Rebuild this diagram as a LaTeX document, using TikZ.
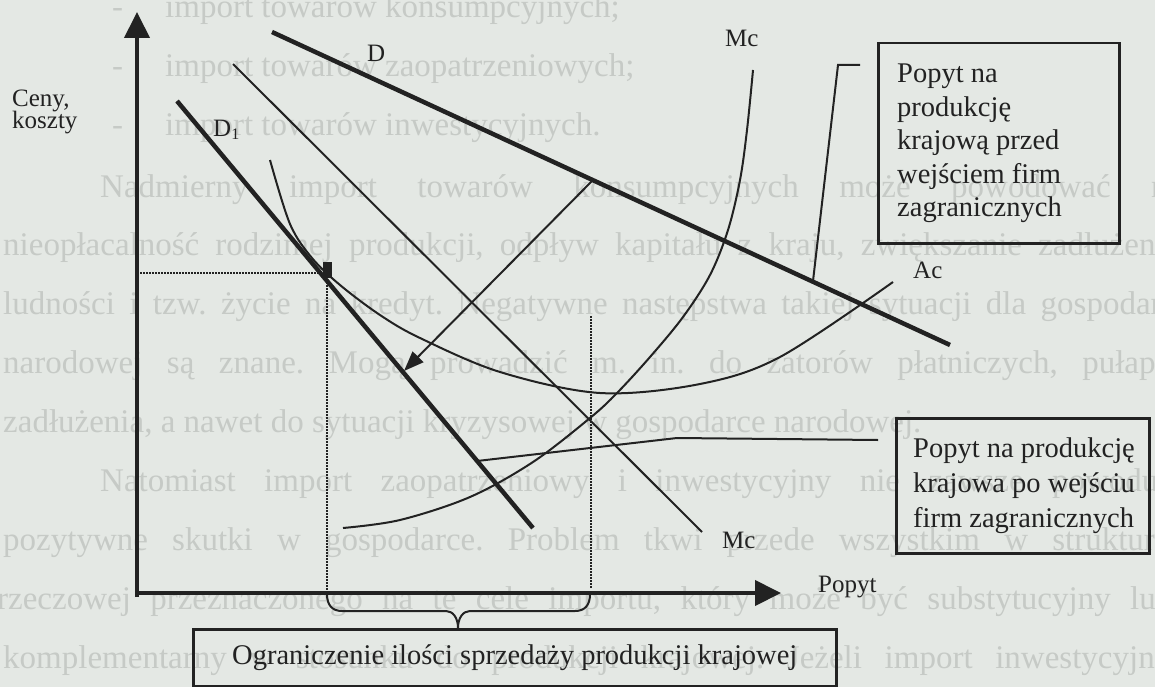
\documentclass[tikz,border=0pt]{standalone}
\usepackage{fontspec}
\setmainfont{Liberation Serif}
\usetikzlibrary{arrows.meta}
\definecolor{paper}{HTML}{E4E8E4}
\definecolor{ghost}{HTML}{C6CAC6}
\definecolor{ink}{HTML}{222222}
\tikzset{
  ghosttext/.style={text=ghost, font=\fontsize{33}{33}\selectfont, inner sep=0pt, anchor=base west},
  thickcurve/.style={draw=ink, line width=4.5pt},
  thincurve/.style={draw=ink, line width=2pt},
  axisline/.style={draw=ink, line width=4pt, -{Triangle[length=26pt,width=25pt]}},
  guide/.style={draw=ink, line width=1.6pt, dash pattern=on 1.5pt off 1.5pt},
  framebox/.style={draw=ink, line width=2.5pt, inner sep=0pt},
  lbl/.style={text=ink, font=\fontsize{25}{25}\selectfont, inner sep=0pt, anchor=base west},
  boxtext/.style={text=ink, font=\fontsize{28.5}{33.5}\selectfont, inner sep=0pt, align=left},
  connector/.style={draw=ink, line width=2pt},
}
\newcommand{\gline}[5]{\node[ghosttext] (#1) at (#2,#3) {\makebox[#4pt][s]{#5}};}
\begin{document}
\frenchspacing
\begin{tikzpicture}[x=1pt,y=-1pt]
\useasboundingbox (0,0) rectangle (1155,687);
\fill[paper] (0,0) rectangle (1155,687);
% faint text of the scanned page
\begin{scope}
\clip (0,0) rectangle (1155,687);
\node[ghosttext] (g1a) at (112,18) {-};
\node[ghosttext] (g1) at (165,18) {import towarów konsumpcyjnych;};
\node[ghosttext] (g2a) at (112,77) {-};
\node[ghosttext] (g2) at (165,77) {import towarów zaopatrzeniowych;};
\node[ghosttext] (g3a) at (112,136) {-};
\node[ghosttext] (g3) at (165,136) {import towarów inwestycyjnych.};
\gline{g4}{100}{197}{1082}{Nadmierny import towarów konsumpcyjnych może powodować na}
\gline{g5}{3}{255}{1176}{nieopłacalność rodzimej produkcji, odpływ kapitału z kraju, zwiększanie zadłużenia}
\gline{g6}{3}{314}{1184}{ludności i tzw. życie na kredyt. Negatywne następstwa takiej sytuacji dla gospodarki}
\gline{g7}{3}{373}{1178}{narodowej są znane. Mogą prowadzić m. in. do zatorów płatniczych, pułapki}
\node[ghosttext] (g8) at (3,432) {zadłużenia, a nawet do sytuacji kryzysowej w gospodarce narodowej.};
\gline{g9}{100}{491}{1082}{Natomiast import zaopatrzeniowy i inwestycyjny nie zawsze powoduje}
\gline{g10}{3}{550}{1181}{pozytywne skutki w gospodarce. Problem tkwi przede wszystkim w strukturze}
\gline{g11}{-3}{609}{1175}{rzeczowej przeznaczonego na te cele importu, który może być substytucyjny lub}
\gline{g12}{3}{668}{1168}{komplementarny w stosunku do produkcji krajowej. Jeżeli import inwestycyjny}
\end{scope}

% axes
\coordinate (ybot) at (137,597);
\coordinate (ytop) at (137,12);
\coordinate (xstart) at (135,593);
\coordinate (xtip) at (781,593);
\draw[axisline] (ybot) -- (ytop);
\draw[axisline] (xstart) -- (xtip);

% guides
\coordinate (gh0) at (140,273);
\coordinate (gh1) at (323,273);
\coordinate (gv0) at (327,279);
\coordinate (gv1) at (327,591);
\coordinate (gw0) at (591,316);
\coordinate (gw1) at (591,588);
\draw[guide] (gh0) -- (gh1);
\draw[guide] (gv0) -- (gv1);
\draw[guide] (gw0) -- (gw1);

% demand lines
\coordinate (D0) at (272,32);
\coordinate (D9) at (950,345);
\draw[thickcurve] (D0) -- (D9);
\coordinate (E0) at (177,101);
\coordinate (E9) at (533,528);
\draw[thickcurve] (E0) -- (E9);

% straight Mc line
\coordinate (M0) at (233,64);
\coordinate (M9) at (702,532);
\draw[thincurve] (M0) -- (M9);

% Ac curve
\coordinate (A0) at (270,160);
\coordinate (A9) at (893,282);
\draw[thincurve] plot[smooth, tension=0.55] coordinates {(A0) (290,224) (312,258) (340,285) (380,315) (420,338) (500,372) (600,393) (700,384) (780,357) (A9)};

% Mc curve
\coordinate (C0) at (343,528);
\coordinate (C9) at (753,70);
\draw[thincurve] plot[smooth, tension=0.55] coordinates {(C0) (400,520) (470,497) (533,462) (590,418) (617,393) (650,357) (683,317) (710,275) (728,230) (740,180) (747,130) (C9)};

% arrow from D to D1
\coordinate (arrS) at (592,181);
\coordinate (arrE) at (404,371);
\draw[connector, -{Triangle[length=20pt,width=15pt]}] (arrS) -- (arrE);

% mark at intersection
\fill[ink] (323,262) rectangle (332,278);

% brace
\coordinate (brL) at (327,594);
\coordinate (brT) at (458,628);
\coordinate (brR) at (590,594);
\draw[connector] (brL) .. controls (327,605) and (332,611) .. (342,611) -- (446,611)
  .. controls (453,611) and (458,618) .. (brT)
  .. controls (458,618) and (463,611) .. (470,611) -- (575,611)
  .. controls (585,611) and (590,605) .. (brR);

% boxes
\node[framebox, minimum width=241pt, minimum height=200pt, anchor=north west] (box1) at (877,42) {};
\node[framebox, minimum width=253pt, minimum height=135pt, anchor=north west] (box2) at (895,417) {};
\node[framebox, minimum width=643pt, minimum height=57pt, anchor=north west] (box3) at (192,628) {};
\node[boxtext, anchor=west] (t1) at ([xshift=20pt]box1.west) {Popyt na\\produkcję\\krajową przed\\wejściem firm\\zagranicznych};
\node[boxtext, anchor=west, font=\fontsize{28.5}{35}\selectfont] (t2) at ([xshift=18pt]box2.west) {Popyt na produkcję\\krajowa po wejściu\\firm zagranicznych};
\node[boxtext] (t3) at (box3.center) {Ograniczenie ilości sprzedaży produkcji krajowej};

% connectors to boxes
\coordinate (c1a) at (813,281);
\coordinate (c1b) at (838,65);
\coordinate (c1c) at (860,65);
\draw[connector] (c1a) -- (c1b) -- (c1c);
\coordinate (c2a) at (477,461);
\coordinate (c2b) at (677,438);
\coordinate (c2c) at (878,440);
\draw[connector] (c2a) -- (c2b) -- (c2c);

% labels
\node[lbl] (lceny) at (12,107) {Ceny,};
\node[lbl] (lkoszty) at (12,129) {koszty};
\node[lbl] (lpopyt) at (818,592) {Popyt};
\node[lbl] (lD) at (367,62) {D};
\node[lbl] (lD1) at (213,137) {D\raisebox{-0.25ex}{\fontsize{16}{16}\selectfont 1}};
\node[lbl] (lMc1) at (725,47) {Mc};
\node[lbl] (lMc2) at (722,548) {Mc};
\node[lbl] (lAc) at (913,278) {Ac};
\end{tikzpicture}
\end{document}
